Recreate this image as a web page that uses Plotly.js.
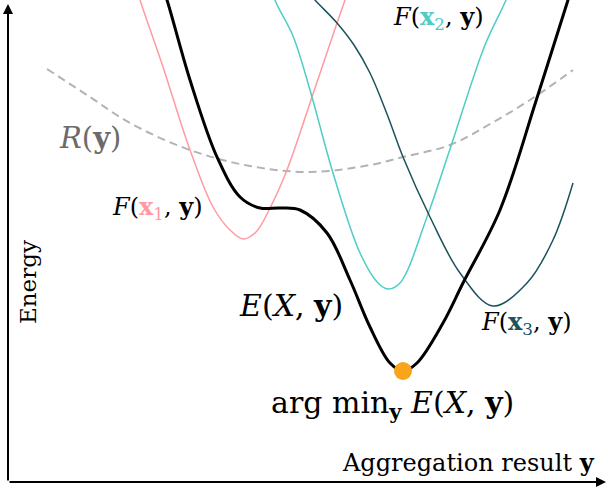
<!DOCTYPE html>
<html>
<head>
<meta charset="utf-8">
<script src="https://cdn.plot.ly/plotly-3.0.1.min.js"></script>
<style>
  html, body { margin: 0; padding: 0; background: #fff; }
  #chart { width: 608px; height: 488px; }
</style>
</head>
<body>
<div id="chart"></div>
<script>
// aggregation result (x) and energy values
const f1Y = [126, 132, 155, 182, 205, 222, 235, 248, 262, 279, 304, 329, 337, 342];
const f1E = [502, 482, 415, 332, 275, 252, 243, 250, 274, 312, 385, 459, 482, 497];

const f2Y = [262, 267, 285, 302, 325, 352, 370, 380, 392, 419, 442, 477, 498, 503];
const f2E = [502, 482, 446, 392, 309, 229, 199, 193, 199, 265, 333, 437, 482, 497];

const f3Y = [299, 307, 329, 346, 362, 379, 395, 422, 452, 485, 519, 545, 565];
const f3E = [492, 482, 459, 437, 409, 368, 325, 265, 209, 176, 199, 242, 299];

const eY = [152, 159, 182, 209, 232, 252, 272, 292, 319, 342, 362, 382, 395, 409, 435, 455, 492, 528, 560, 565];
const eE = [502, 482, 402, 325, 285, 274, 274, 272, 249, 202, 155, 119, 111, 119, 159, 199, 272, 381, 482, 497];

const rY = [39, 82, 122, 182, 242, 302, 362, 395, 442, 482, 522, 565];
const rE = [413, 385, 359, 332, 316, 310, 317, 325, 337, 358, 382, 412];

const minY = [395];
const minE = [111];

const pink = '#ff9aa2';
const teal = '#4ecdc4';
const darkTeal = '#1a535c';
const font = 'DejaVu Serif';

const traces = [
    {
        x: rY, y: rE, mode: 'lines', type: 'scatter',
        line: {color: '#b3b3b3', width: 2, dash: '8px,5px', shape: 'spline'}
    },
    {
        x: f1Y, y: f1E, mode: 'lines', type: 'scatter',
        line: {color: pink, width: 1.5, shape: 'spline'}
    },
    {
        x: f2Y, y: f2E, mode: 'lines', type: 'scatter',
        line: {color: teal, width: 1.5, shape: 'spline'}
    },
    {
        x: f3Y, y: f3E, mode: 'lines', type: 'scatter',
        line: {color: darkTeal, width: 1.5, shape: 'spline'}
    },
    {
        x: eY, y: eE, mode: 'lines', type: 'scatter',
        line: {color: '#000', width: 3, shape: 'spline'}
    },
    {
        x: minY, y: minE, mode: 'markers', type: 'scatter',
        marker: {color: '#f9a51b', size: 18}
    }
];

function label(x, y, text, size, color, extra) {
    return Object.assign({
        x: x, y: y, xref: 'x', yref: 'y', text: text, showarrow: false,
        font: {family: font, size: size, color: color || '#000'}
    }, extra || {});
}

const layout = {
    width: 608,
    height: 488,
    margin: {l: 0, r: 0, t: 0, b: 0},
    paper_bgcolor: '#fff',
    plot_bgcolor: '#fff',
    font: {family: font},
    showlegend: false,
    xaxis: {range: [-8, 600], visible: false, fixedrange: true},
    yaxis: {range: [-6, 482], visible: false, fixedrange: true},
    annotations: [
        // axes with arrow heads
        {x: 0, y: 478, ax: 0, ay: 0, xref: 'x', yref: 'y', axref: 'x', ayref: 'y',
         text: '', showarrow: true, arrowhead: 2, arrowsize: 1, arrowwidth: 2, arrowcolor: '#000'},
        {x: 598, y: 0, ax: 0, ay: 0, xref: 'x', yref: 'y', axref: 'x', ayref: 'y',
         text: '', showarrow: true, arrowhead: 2, arrowsize: 1, arrowwidth: 2, arrowcolor: '#000'},
        label(82, 344, '<i>R</i>(<b>y</b>)', 29, '#6b6b6b'),
        label(149, 274, '<i>F</i>(<span style="color:' + pink + '"><b>x</b><sub>1</sub></span>, <b>y</b>)', 24),
        label(430, 464, '<i>F</i>(<span style="color:' + teal + '"><b>x</b><sub>2</sub></span>, <b>y</b>)', 24),
        label(518, 159, '<i>F</i>(<span style="color:' + darkTeal + '"><b>x</b><sub>3</sub></span>, <b>y</b>)', 24),
        label(283, 177, '<i>E</i>(<i>X</i>, <b>y</b>)', 30),
        label(384, 78, 'arg min<sub><b>y</b></sub> <i>E</i>(<i>X</i>, <b>y</b>)', 30),
        label(460, 20, 'Aggregation result <b>y</b>', 24),
        label(20, 200, 'Energy', 23, '#000', {textangle: -90})
    ]
};

Plotly.newPlot('chart', traces, layout, {displayModeBar: false, staticPlot: true});
</script>
</body>
</html>
